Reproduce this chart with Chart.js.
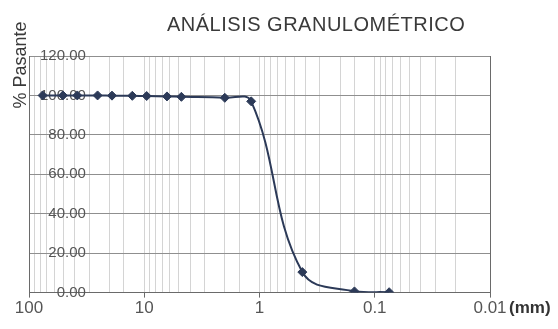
<!DOCTYPE html>
<html>
<head>
<meta charset="utf-8">
<script src="https://cdn.jsdelivr.net/npm/chart.js@4.4.0/dist/chart.umd.min.js"></script>
<style>
  html, body { margin: 0; padding: 0; background: #fff; }
  #wrap { width: 558px; height: 329px; }
</style>
</head>
<body>
<div id="wrap"><canvas id="chartGranulo" width="558" height="329"></canvas></div>
<script>
// Datos (tamiz en mm, % que pasa)
const sieveSizes = [76.2, 50.8, 38.1, 25.4, 19.05, 12.7, 9.525, 6.35, 4.76, 2.0, 1.18, 0.425, 0.15, 0.075];
const percentPassing = [100, 100, 100, 100, 99.9, 99.8, 99.7, 99.5, 99.3, 98.8, 97.0, 10.4, 0.6, 0.2];

// Etiquetas de ejes
const xTickValues = [100, 10, 1, 0.1, 0.01];
const xTickLabels = ['100', '10', '1', '0.1', '0.01'];
const yTickValues = [0, 20, 40, 60, 80, 100, 120];

const chartTitle = 'ANÁLISIS GRANULOMÉTRICO';
const yTitle = '% Pasante';
const xUnit = '(mm)';

const FONT = '"Liberation Sans", Arial, sans-serif';
const LINE_COLOR = '#2c3a58';

function isDecade(v) {
  const l = Math.log10(v);
  return Math.abs(l - Math.round(l)) < 1e-6;
}

// Textos que Chart.js no coloca donde los pone el original
const textosExtra = {
  id: 'textosExtra',
  afterDraw(chart) {
    const ctx = chart.ctx;
    const area = chart.chartArea;

    ctx.save();
    ctx.fillStyle = '#3a3a3a';
    ctx.font = '20px ' + FONT;
    ctx.letterSpacing = '0.5px';
    ctx.textAlign = 'left';
    ctx.textBaseline = 'alphabetic';
    ctx.fillText(chartTitle, 167, 31);
    ctx.letterSpacing = '0px';

    ctx.font = 'bold 17px ' + FONT;
    ctx.fillStyle = '#333';
    ctx.fillText(xUnit, area.right + 19, area.bottom + 20);

    ctx.translate(21, 65);
    ctx.rotate(-Math.PI / 2);
    ctx.textAlign = 'center';
    ctx.textBaseline = 'middle';
    ctx.font = '18px ' + FONT;
    ctx.fillStyle = '#3a3a3a';
    ctx.fillText(yTitle, 0, 0);
    ctx.restore();
  }
};

const puntos = sieveSizes.map((d, i) => ({ x: d, y: percentPassing[i] }));

const ctx = document.getElementById('chartGranulo').getContext('2d');
new Chart(ctx, {
  type: 'scatter',
  data: {
    datasets: [{
      data: puntos,
      showLine: true,
      borderColor: LINE_COLOR,
      borderWidth: 2,
      tension: 0.4,
      pointStyle: 'rectRot',
      pointRadius: 4.5,
      pointBackgroundColor: LINE_COLOR,
      pointBorderColor: LINE_COLOR,
      pointBorderWidth: 1,
    }]
  },
  options: {
    responsive: false,
    animation: false,
    devicePixelRatio: 1,
    layout: { padding: { left: 7, right: 68, top: 56, bottom: 9 } },
    plugins: {
      legend: { display: false },
      tooltip: { enabled: false },
    },
    scales: {
      x: {
        type: 'logarithmic',
        reverse: true,
        min: 0.01,
        max: 100,
        border: { color: '#6a6a6a', width: 1 },
        grid: {
          color: c => (c.tick && Math.abs(c.tick.value - 0.01) < 1e-9) ? '#6a6a6a' : '#d4d4d4',
          tickLength: 5,
          tickColor: c => (c.tick && isDecade(c.tick.value)) ? '#6a6a6a' : 'rgba(0,0,0,0)',
        },
        ticks: {
          autoSkip: false,
          maxRotation: 0,
          padding: 1,
          color: '#555',
          font: { family: FONT, size: 17 },
          callback: function (v) {
            if (!isDecade(v)) return '';
            const idx = xTickValues.findIndex(t => Math.abs(t - v) / t < 1e-6);
            return idx >= 0 ? xTickLabels[idx] : '';
          }
        }
      },
      y: {
        min: yTickValues[0],
        max: yTickValues[yTickValues.length - 1],
        border: { color: '#6a6a6a', width: 1 },
        grid: { color: '#8f8f8f', drawTicks: false },
        ticks: {
          stepSize: 20,
          mirror: true,
          crossAlign: 'far',
          padding: 11,
          color: '#555',
          font: { family: FONT, size: 15 },
          callback: v => Number(v).toFixed(2)
        }
      }
    }
  },
  plugins: [textosExtra]
});
</script>
</body>
</html>
